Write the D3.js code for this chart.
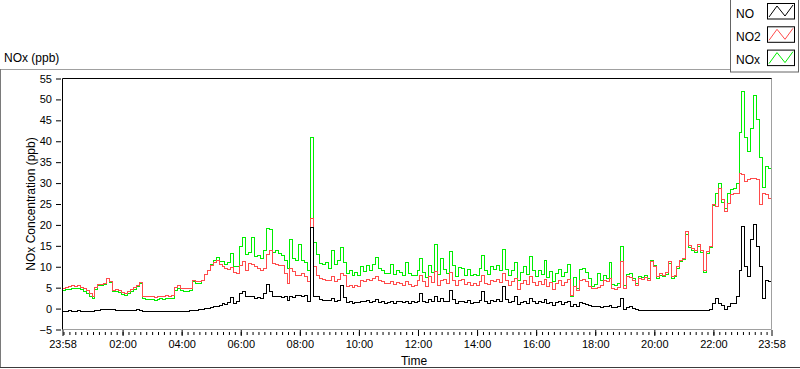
<!DOCTYPE html>
<meta charset="utf-8">
<style>
body { margin: 0; background: #fff; }
svg { display: block; font-family: "Liberation Sans", Arial, sans-serif; }
.line { fill: none; stroke-width: 1px; shape-rendering: crispEdges; }
.axis text { font-size: 11px; fill: #000; }
.axis line { stroke: #000; }
.axis .domain { display: none; }
</style>
<body>
<script src="https://d3js.org/d3.v7.min.js"></script>
<script>
// 800 x 369 LabVIEW style chart
var width = 800, height = 369;
var plot = {left: 62.5, right: 771.5, top: 78.5, bottom: 329.5};

var seriesNames = ["NO", "NO2", "NOx"];
var seriesColors = ["#000000", "#ff4b4b", "#00ee00"];
var majorLabels = ["23:58", "02:00", "04:00", "06:00", "08:00", "10:00", "12:00",
                   "14:00", "16:00", "18:00", "20:00", "22:00", "23:58"];
var yTicks = [-5, 0, 5, 10, 15, 20, 25, 30, 35, 40, 45, 50, 55];
var stepMinutes = 6;   // one reading every 6 minutes from 23:58

// NO (ppb)
var noData = [
  -0.6, -0.6, -0.5, -0.6, -0.6, -0.5, -0.6, -0.6, -0.6, -0.6,
  -0.6, -0.5, -0.4, -0.3, -0.2, -0.1, -0.2, -0.3, -0.4, -0.4,
  -0.5, -0.5, -0.4, -0.4, -0.4, -0.3, -0.4, -0.6, -0.7, -0.7,
  -0.7, -0.7, -0.8, -0.7, -0.7, -0.7, -0.7, -0.7, -0.7, -0.6,
  -0.6, -0.6, -0.6, -0.5, -0.4, -0.4, -0.3, -0.1, 0.0, 0.0,
  0.2, 0.4, 0.5, 0.8, 1.2, 1.0, 1.5, 2.6, 1.3, 1.6,
  3.6, 4.2, 2.8, 2.8, 3.0, 2.4, 2.6, 2.4, 3.6, 5.8,
  4.0, 3.0, 2.8, 2.8, 2.6, 2.8, 2.0, 3.0, 2.6, 3.2,
  3.2, 3.0, 3.2, 1.6, 19.5, 3.0, 2.8, 2.2, 2.0, 2.0,
  2.0, 2.4, 1.8, 2.0, 5.6, 2.6, 1.4, 1.6, 1.2, 1.4,
  1.4, 1.8, 1.6, 2.0, 1.4, 1.6, 2.2, 1.4, 1.6, 1.2,
  1.4, 1.8, 1.2, 1.6, 1.8, 1.4, 1.6, 1.2, 1.6, 1.4,
  1.6, 3.6, 1.8, 1.4, 2.2, 1.8, 2.8, 1.6, 2.4, 1.8,
  1.8, 4.4, 2.2, 1.2, 1.8, 1.6, 1.4, 2.0, 1.2, 1.4,
  1.4, 2.0, 4.0, 1.6, 1.2, 2.0, 1.8, 2.2, 1.6, 5.3,
  2.2, 1.4, 1.6, 3.0, 1.0, 1.4, 1.8, 1.2, 2.4, 1.6,
  1.2, 1.6, 1.4, 2.2, 1.2, 1.4, 0.8, 1.4, 1.6, 1.0,
  1.4, 1.6, 0.4, 1.0, 0.6, 1.4, 1.2, 1.0, 0.8, 0.6,
  0.4, 0.6, 0.3, 0.5, 0.4, 0.8, 0.2, 0.3, 0.4, 2.4,
  -0.3, 0.2, 0.6, 0.0, -0.3, -0.4, -0.4, -0.4, -0.4, -0.4,
  -0.4, -0.4, -0.4, -0.4, -0.4, -0.4, -0.4, -0.4, -0.4, -0.4,
  -0.4, -0.4, -0.4, -0.4, -0.4, -0.4, -0.4, -0.4, -0.4, -0.3,
  1.2, 2.4, 1.2, 0.8, -0.3, 0.6, 1.2, 1.2, 2.8, 9.2,
  19.6, 10.0, 7.6, 16.4, 20.0, 14.8, 10.0, 2.4, 6.8, 6.4, 5.2
];

// NO2 (ppb)
var no2Data = [
  4.9, 5.0, 5.2, 5.4, 5.3, 5.4, 5.1, 4.8, 4.3, 3.6,
  2.9, 5.0, 5.8, 5.7, 6.0, 7.3, 6.4, 4.3, 4.6, 4.3,
  3.8, 3.6, 4.0, 4.5, 5.0, 5.6, 6.3, 3.0, 2.8, 2.9,
  2.8, 2.7, 2.9, 3.0, 2.9, 3.1, 3.0, 3.2, 5.0, 5.5,
  4.9, 4.8, 4.7, 4.9, 6.8, 6.5, 6.4, 6.8, 8.2, 9.2,
  10.4, 11.0, 11.6, 10.5, 10.0, 9.5, 9.4, 9.8, 8.7, 8.4,
  10.4, 11.2, 9.2, 10.8, 10.6, 10.0, 9.6, 9.2, 9.6, 13.0,
  14.0, 10.8, 10.6, 10.4, 10.2, 8.4, 6.0, 9.6, 8.8, 8.0,
  8.0, 8.4, 7.6, 6.4, 21.6, 10.0, 8.0, 7.2, 7.0, 6.8,
  6.8, 7.6, 6.4, 7.0, 8.4, 7.8, 5.2, 5.6, 5.0, 5.4,
  5.2, 6.8, 6.4, 7.0, 6.6, 7.2, 7.6, 6.8, 6.4, 6.0,
  6.0, 6.4, 5.8, 6.2, 6.0, 5.6, 6.4, 5.8, 5.2, 5.6,
  6.8, 8.0, 6.4, 5.2, 7.6, 6.2, 8.8, 5.6, 6.6, 7.0,
  6.0, 8.6, 6.8, 5.4, 6.6, 7.0, 5.8, 6.2, 5.6, 6.0,
  5.4, 6.4, 8.0, 6.0, 5.8, 6.8, 6.4, 7.0, 6.2, 8.4,
  6.6, 5.6, 6.4, 7.2, 4.6, 6.0, 6.8, 5.8, 7.6, 6.2,
  5.4, 6.4, 5.8, 7.0, 5.2, 6.2, 4.6, 6.0, 6.6, 5.6,
  6.2, 7.0, 3.2, 5.2, 4.4, 6.8, 7.0, 6.4, 5.2, 4.8,
  4.8, 5.0, 5.6, 6.8, 6.4, 7.2, 4.8, 4.6, 5.0, 11.2,
  4.8, 7.6, 7.4, 6.6, 5.6, 7.2, 7.0, 7.4, 6.8, 11.2,
  10.0, 7.6, 8.4, 8.0, 8.6, 11.2, 7.6, 8.0, 10.0, 11.6,
  12.0, 18.4, 15.0, 14.4, 14.0, 15.2, 14.0, 9.2, 13.6, 14.8,
  24.8, 24.4, 28.6, 26.0, 23.2, 25.2, 27.2, 27.6, 27.4, 32.4,
  32.0, 30.4, 30.8, 31.0, 31.2, 30.8, 24.8, 27.6, 27.2, 26.4, 25.6
];

// NOx (ppb)
var noxData = [
  4.4, 4.5, 4.6, 4.8, 4.7, 4.9, 4.5, 4.2, 3.7, 3.0,
  2.3, 4.5, 5.4, 5.4, 5.8, 7.2, 6.2, 4.0, 4.2, 3.9,
  3.3, 3.1, 3.6, 4.1, 4.6, 5.3, 5.9, 2.4, 2.1, 2.2,
  2.1, 2.0, 2.1, 2.3, 2.2, 2.4, 2.3, 2.5, 4.3, 4.9,
  4.3, 4.2, 4.1, 4.4, 6.4, 6.1, 6.1, 6.7, 8.2, 9.2,
  10.6, 11.4, 12.1, 11.3, 11.2, 10.5, 10.9, 13.2, 10.0, 10.0,
  14.8, 17.0, 13.0, 13.5, 17.0, 12.4, 12.8, 12.0, 14.0, 19.2,
  19.0, 13.5, 14.0, 13.2, 12.8, 11.6, 9.5, 16.4, 12.0, 11.6,
  15.3, 11.6, 11.0, 9.2, 41.0, 15.7, 13.0, 10.8, 10.5, 11.0,
  9.5, 14.0, 10.5, 11.6, 14.5, 11.0, 8.4, 9.0, 8.0, 8.6,
  8.0, 10.0, 8.8, 10.2, 9.0, 10.5, 12.2, 9.6, 9.0, 8.4,
  8.4, 10.6, 8.2, 9.0, 8.6, 8.0, 11.0, 8.4, 7.8, 8.0,
  9.0, 12.0, 8.6, 7.4, 10.2, 8.6, 15.2, 8.2, 12.0, 9.4,
  8.4, 13.6, 10.4, 7.6, 9.8, 9.6, 8.0, 9.4, 7.8, 8.2,
  7.8, 9.6, 12.8, 9.0, 8.2, 10.0, 9.4, 10.4, 9.2, 14.1,
  9.4, 8.0, 9.0, 11.0, 6.6, 8.6, 10.0, 8.2, 12.4, 9.0,
  7.6, 9.0, 8.2, 11.4, 7.4, 8.8, 6.4, 8.4, 9.4, 7.6,
  8.6, 10.5, 3.0, 7.4, 4.8, 9.4, 9.6, 8.6, 7.2, 5.2,
  5.8, 8.4, 6.8, 7.8, 7.2, 10.9, 5.8, 5.4, 6.0, 14.8,
  5.4, 8.2, 8.4, 7.2, 6.0, 7.6, 7.4, 7.8, 7.2, 11.6,
  10.4, 7.2, 8.0, 7.6, 8.2, 10.8, 7.2, 7.6, 9.6, 11.2,
  11.8, 17.8, 14.6, 14.0, 13.4, 14.8, 13.4, 8.6, 13.2, 14.6,
  24.6, 27.6, 30.0, 25.4, 24.0, 27.6, 28.4, 28.8, 30.0, 42.0,
  52.0, 41.0, 37.6, 43.0, 51.0, 45.2, 36.0, 29.0, 34.0, 33.6, 30.8
];

var t0 = new Date(2000, 0, 1, 23, 58);
var t1 = d3.timeDay.offset(t0, 1);

var x = d3.scaleTime().domain([t0, t1]).range([plot.left, plot.right]);
var y = d3.scaleLinear().domain([-5, 55]).range([plot.bottom, plot.top]);

var svg = d3.select("body").append("svg")
    .attr("width", width)
    .attr("height", height);

// outer panel borders
svg.append("line").attr("x1", 0).attr("x2", 730).attr("y1", 69.5).attr("y2", 69.5).attr("stroke", "#a0a0a0");
svg.append("line").attr("x1", 0.5).attr("x2", 0.5).attr("y1", 69).attr("y2", 368).attr("stroke", "#7a7a7a");
svg.append("line").attr("x1", 0).attr("x2", width).attr("y1", 367.5).attr("y2", 367.5).attr("stroke", "#3c3c3c");

svg.append("text")
    .attr("x", 4).attr("y", 62)
    .style("font-size", "12px")
    .text("NOx (ppb)");

// clip for the plot area
svg.append("clipPath").attr("id", "clip")
  .append("rect")
    .attr("x", plot.left).attr("y", plot.top)
    .attr("width", plot.right - plot.left).attr("height", plot.bottom - plot.top);

function timeAt(i) { return d3.timeMinute.offset(t0, i * stepMinutes); }

var valueline = d3.line()
    .x(function(d, i) { return x(timeAt(i)); })
    .y(function(d) { return y(d); })
    .curve(d3.curveStepAfter);

// draw NOx first, then NO2, NO on top
var series = [noData, no2Data, noxData];
[2, 1, 0].forEach(function(k) {
  svg.append("path")
      .datum(series[k])
      .attr("class", "line")
      .attr("clip-path", "url(#clip)")
      .attr("stroke", seriesColors[k])
      .attr("d", valueline);
});

// plot frame
svg.append("line").attr("x1", plot.left).attr("x2", plot.right + 0.5).attr("y1", plot.top).attr("y2", plot.top).attr("stroke", "#000");
svg.append("line").attr("x1", plot.left).attr("x2", plot.left).attr("y1", plot.top).attr("y2", plot.bottom + 0.5).attr("stroke", "#000");
svg.append("line").attr("x1", plot.right).attr("x2", plot.right).attr("y1", plot.top).attr("y2", plot.bottom).attr("stroke", "#a0a0a0");
svg.append("line").attr("x1", plot.left).attr("x2", plot.right).attr("y1", plot.bottom).attr("y2", plot.bottom).attr("stroke", "#a0a0a0");

// y axis
svg.append("g")
    .attr("class", "axis")
    .attr("transform", "translate(61,0)")
    .call(d3.axisLeft(y).tickValues(yTicks).tickSize(5).tickPadding(4));

// x axis: major ticks with labels, minor ticks every 12 minutes
var majorTicks = majorLabels.map(function(s, i) {
  if (i === 0) return t0;
  var p = s.split(":");
  return new Date(2000, 0, 2, +p[0], +p[1]);
});
var minorTicks = d3.timeMinute.every(12).range(d3.timeMinute.offset(t0, 1), t1);

svg.append("g")
    .attr("class", "axis")
    .attr("transform", "translate(0,332)")
    .call(d3.axisBottom(x).tickValues(minorTicks).tickSize(3).tickFormat(""));

svg.append("g")
    .attr("class", "axis")
    .attr("transform", "translate(0,330)")
    .call(d3.axisBottom(x).tickValues(majorTicks).tickSize(6).tickPadding(4)
      .tickFormat(function(d, i) { return majorLabels[i]; }));

svg.append("text")
    .attr("x", 414).attr("y", 365)
    .attr("text-anchor", "middle")
    .style("font-size", "12px")
    .text("Time");

svg.append("text")
    .attr("transform", "translate(35," + ((plot.top + plot.bottom) / 2) + ") rotate(-90)")
    .attr("text-anchor", "middle")
    .style("font-size", "12px")
    .text("NOx Concentration (ppb)");

// legend
var legend = svg.append("g").attr("class", "legend");
legend.append("rect")
    .attr("x", 730.5).attr("y", -1)
    .attr("width", 68).attr("height", 73)
    .attr("fill", "#fff").attr("stroke", "#646464");

var glyph = d3.line();
var zig = [[1.5, 13.5], [9.5, 2.5], [17.5, 12.5], [25.5, 1.5]];

seriesNames.forEach(function(name, i) {
  var top = 3.5 + i * 23.3;
  legend.append("text")
      .attr("x", 736).attr("y", 17.5 + i * 23.1)
      .style("font-size", "12px")
      .text(name);
  var sw = legend.append("g").attr("transform", "translate(767.5," + top + ")");
  sw.append("rect").attr("width", 27).attr("height", 15.5)
      .attr("fill", "#fff").attr("stroke", "#000");
  sw.append("path").attr("d", glyph(zig))
      .attr("fill", "none").attr("stroke", seriesColors[i]);
});
</script>
</body>
